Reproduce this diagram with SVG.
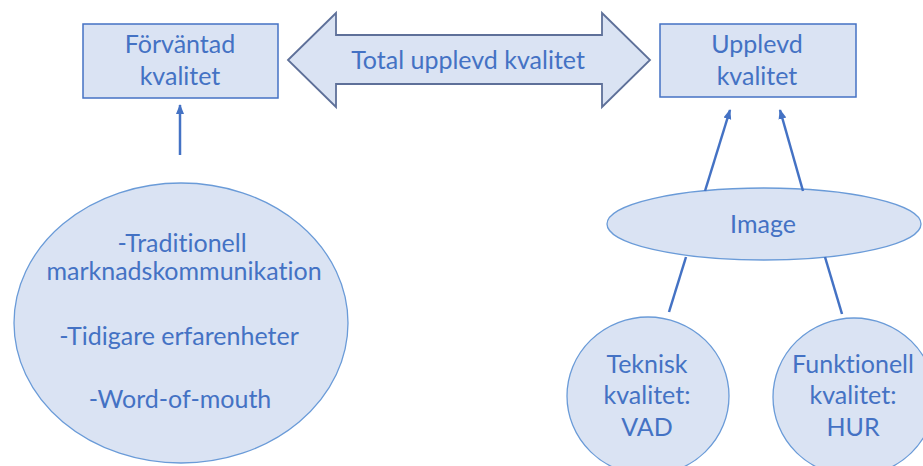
<svg xmlns="http://www.w3.org/2000/svg" width="923" height="466" viewBox="0 0 923 466">
<style>
.box{fill:#DAE3F3;stroke:#4472C4;stroke-width:1.5}
.ell{fill:#DAE3F3;stroke:#6A9BD8;stroke-width:1.3}
.big{fill:#DAE3F3;stroke:#5E7099;stroke-width:1.8;stroke-linejoin:miter}
.t{font-family:Lato,"Liberation Sans",sans-serif;font-size:25px;fill:#4472C4;text-anchor:middle;font-variant-ligatures:none;font-feature-settings:"liga" 0}
.ln{stroke:#4472C4;stroke-width:2.5;fill:none}
</style>
<defs>
<marker id="ah" markerWidth="10" markerHeight="10" viewBox="0 0 10 10" refX="9" refY="5" orient="auto" markerUnits="userSpaceOnUse">
<path d="M0,1 L10,5 L0,9 z" fill="#4472C4"/>
</marker>
</defs>
<rect width="923" height="466" fill="#FFFFFF"/>
<g id="total">
<path class="big" d="M288,60 L336,13 L336,35 L602,35 L602,13 L650,60 L602,107 L602,84 L336,84 L336,107 Z"/>
<text class="t" x="468" y="69">Total upplevd kvalitet</text>
</g>
<g id="forvantad">
<rect class="box" x="83" y="24" width="195" height="74"/>
<text class="t" x="180" y="53">Förväntad</text>
<text class="t" x="180" y="85">kvalitet</text>
</g>
<g id="upplevd">
<rect class="box" x="660" y="24" width="196" height="73"/>
<text class="t" x="757" y="53">Upplevd</text>
<text class="t" x="757" y="85">kvalitet</text>
</g>
<g id="kallor">
<ellipse class="ell" cx="181" cy="323" rx="167" ry="140"/>
<text class="t" x="182" y="252">-Traditionell</text>
<text class="t" x="184" y="280">marknadskommunikation</text>
<text class="t" x="179" y="345">-Tidigare erfarenheter</text>
<text class="t" x="180" y="408">-Word-of-mouth</text>
</g>
<g id="image">
<ellipse class="ell" cx="764" cy="224" rx="157" ry="36"/>
<text class="t" x="763" y="233">Image</text>
</g>
<g id="teknisk">
<ellipse class="ell" cx="648" cy="396" rx="81" ry="79"/>
<text class="t" x="647" y="373">Teknisk</text>
<text class="t" x="647" y="404">kvalitet:</text>
<text class="t" x="647" y="436">VAD</text>
</g>
<g id="funktionell">
<ellipse class="ell" cx="854" cy="397" rx="81" ry="79"/>
<text class="t" x="853" y="373">Funktionell</text>
<text class="t" x="853" y="404">kvalitet:</text>
<text class="t" x="853" y="436">HUR</text>
</g>
<g id="connectors">
<line class="ln" x1="180" y1="155" x2="180" y2="105" marker-end="url(#ah)"/>
<line class="ln" x1="705" y1="191" x2="730" y2="110" marker-end="url(#ah)"/>
<line class="ln" x1="803" y1="191" x2="780" y2="110" marker-end="url(#ah)"/>
<line class="ln" x1="686" y1="257" x2="669" y2="312"/>
<line class="ln" x1="825" y1="257" x2="842" y2="314"/>
</g>
</svg>
